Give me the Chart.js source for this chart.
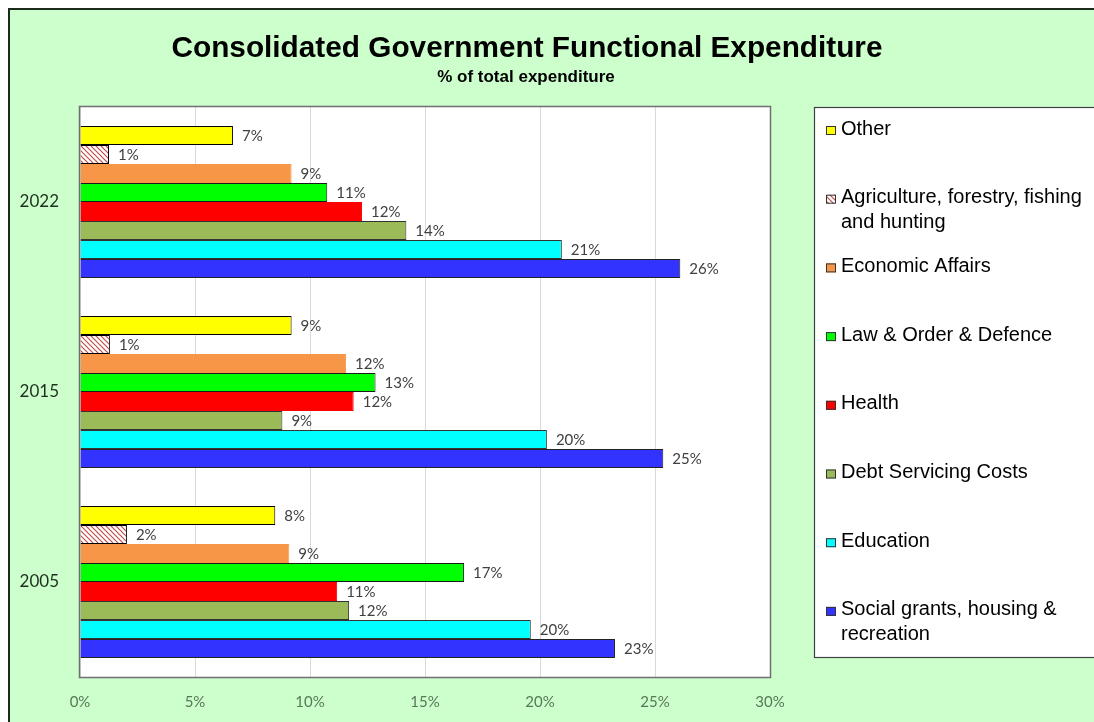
<!doctype html>
<html lang="en">

<head>
    <meta charset="utf-8">
    <title>Consolidated Government Functional Expenditure</title>
    <script src="https://cdn.jsdelivr.net/npm/chart.js"></script>
    <style>
        body {
            margin: 0;
            background: #fff;
            overflow: hidden;
        }

        #frame {
            position: absolute;
            left: 8px;
            top: 8px;
            width: 1100px;
            height: 730px;
            background: #ccffcc;
            border-left: 2px solid #1c2a1c;
            border-top: 2px solid #1c2a1c;
        }

        #chart {
            position: absolute;
            left: 0;
            top: 0;
        }
    </style>
</head>

<body>
    <div id="frame"></div>
    <canvas id="chart" width="1094" height="722"></canvas>
    <script>
        const categories = ['2022', '2015', '2005'];
        const seriesNames = ['Other', 'Agriculture, forestry, fishing and hunting', 'Economic Affairs',
            'Law & Order & Defence', 'Health', 'Debt Servicing Costs', 'Education',
            'Social grants, housing & recreation'];

        // % of total expenditure, per year (2022, 2015, 2005)
        const other = [6.65, 9.2, 8.49];
        const agriculture = [1.26, 1.3, 2.04];
        const economicAffairs = [9.2, 11.57, 9.1];
        const lawOrderDefence = [10.75, 12.85, 16.7];
        const health = [12.26, 11.9, 11.18];
        const debtServicing = [14.19, 8.8, 11.7];
        const education = [20.95, 20.3, 19.6];
        const socialGrants = [26.1, 25.36, 23.26];

        const xTicks = [0, 5, 10, 15, 20, 25, 30];

        // hatched fill for agriculture
        const hatch = (() => {
            const c = document.createElement('canvas');
            c.width = 5;
            c.height = 5;
            const g = c.getContext('2d');
            g.fillStyle = '#fff';
            g.fillRect(0, 0, 5, 5);
            g.strokeStyle = '#c0504d';
            g.lineWidth = 1.2;
            g.beginPath();
            g.moveTo(0, 0); g.lineTo(5, 5);
            g.moveTo(-1, 4); g.lineTo(1, 6);
            g.moveTo(4, -1); g.lineTo(6, 1);
            g.stroke();
            return g.createPattern(c, 'repeat');
        })();

        const seriesData = [other, agriculture, economicAffairs, lawOrderDefence, health, debtServicing, education, socialGrants];
        const fills = ['#ffff00', hatch, '#f79646', '#00ff00', '#ff0000', '#9bbb59', '#00ffff', '#3333ff'];
        const edges = ['#000', '#000', '#f79646', '#1a1a1a', '#ff0000', '#333', '#333', '#222'];

        const plotFrame = {
            id: 'plotFrame',
            beforeDatasetsDraw(chart) {
                const a = chart.chartArea;
                const ctx = chart.ctx;
                ctx.save();
                ctx.fillStyle = '#fff';
                ctx.globalCompositeOperation = 'destination-over';
                ctx.fillRect(a.left, a.top, a.right - a.left, a.bottom - a.top);
                ctx.restore();
            },
            afterDraw(chart) {
                const a = chart.chartArea;
                const ctx = chart.ctx;
                ctx.save();
                ctx.strokeStyle = '#6f6f6f';
                ctx.lineWidth = 1.5;
                ctx.strokeRect(a.left - 0.5, a.top - 0.5, a.right - a.left + 1, a.bottom - a.top + 1);

                // titles
                ctx.fillStyle = '#000';
                ctx.textAlign = 'center';
                ctx.textBaseline = 'middle';
                ctx.font = 'bold 30px "Liberation Sans", Arial, sans-serif';
                ctx.fillText('Consolidated Government Functional Expenditure', 527, 49, 711);
                ctx.font = 'bold 17px "Liberation Sans", Arial, sans-serif';
                ctx.fillText('% of total expenditure', 526, 77, 184);

                // value labels
                ctx.font = '15px Lato, sans-serif';
                ctx.fillStyle = '#404040';
                ctx.textAlign = 'left';
                chart.data.datasets.forEach((ds, i) => {
                    chart.getDatasetMeta(i).data.forEach((bar, j) => {
                        ctx.fillText(Math.round(ds.data[j]) + '%', bar.x + 9, bar.y + 1);
                    });
                });

                // legend
                const lx = 814, ly = 107, lb = 657;
                ctx.fillStyle = '#fff';
                ctx.fillRect(lx, ly, 300, lb - ly);
                ctx.strokeStyle = '#404040';
                ctx.lineWidth = 1.2;
                ctx.strokeRect(lx + 0.5, ly + 0.5, 300, lb - ly);
                ctx.font = '20px "Liberation Sans", Arial, sans-serif';
                ctx.textBaseline = 'middle';
                chart.data.datasets.forEach((ds, i) => {
                    const y = 129 + i * 68.7;
                    ctx.fillStyle = ds.backgroundColor;
                    ctx.fillRect(826, y - 3, 10, 9);
                    ctx.strokeStyle = '#333';
                    ctx.lineWidth = 1;
                    ctx.strokeRect(826.5, y - 2.5, 9, 8);
                    // wrap label
                    const words = ds.label.split(' ');
                    const lines = [];
                    let line = '';
                    words.forEach(w => {
                        const t = line ? line + ' ' + w : w;
                        if (ctx.measureText(t).width > 252 && line) {
                            lines.push(line);
                            line = w;
                        } else {
                            line = t;
                        }
                    });
                    lines.push(line);
                    ctx.fillStyle = '#000';
                    lines.forEach((l, k) => ctx.fillText(l, 841, y + k * 25));
                });
                ctx.restore();
            }
        };

        new Chart(document.getElementById('chart'), {
            type: 'bar',
            data: {
                labels: categories,
                datasets: seriesNames.map((name, i) => ({
                    label: name,
                    data: seriesData[i],
                    backgroundColor: fills[i],
                    borderColor: edges[i],
                    borderWidth: 1,
                    categoryPercentage: 0.8,
                    barPercentage: 1.0
                }))
            },
            options: {
                indexAxis: 'y',
                responsive: false,
                animation: false,
                layout: {
                    padding: { left: 0, right: 324, top: 107, bottom: 0 }
                },
                plugins: {
                    legend: { display: false },
                    tooltip: { enabled: false }
                },
                scales: {
                    x: {
                        min: 0,
                        max: 30,
                        afterFit: s => { s.height = 45; },
                        afterBuildTicks: s => { s.ticks = xTicks.map(v => ({ value: v })); },
                        grid: { color: '#d9d9d9', drawTicks: false },
                        border: { display: false },
                        ticks: {
                            padding: 16,
                            color: '#587858',
                            font: { family: 'Lato', size: 15 },
                            callback: v => v + '%'
                        }
                    },
                    y: {
                        afterFit: s => { s.width = 80; },
                        grid: { display: false, drawTicks: false },
                        border: { display: false },
                        ticks: {
                            padding: 21,
                            color: '#1f2f1f',
                            font: { family: 'Lato', size: 17 }
                        }
                    }
                }
            },
            plugins: [plotFrame]
        });
    </script>
</body>

</html>
